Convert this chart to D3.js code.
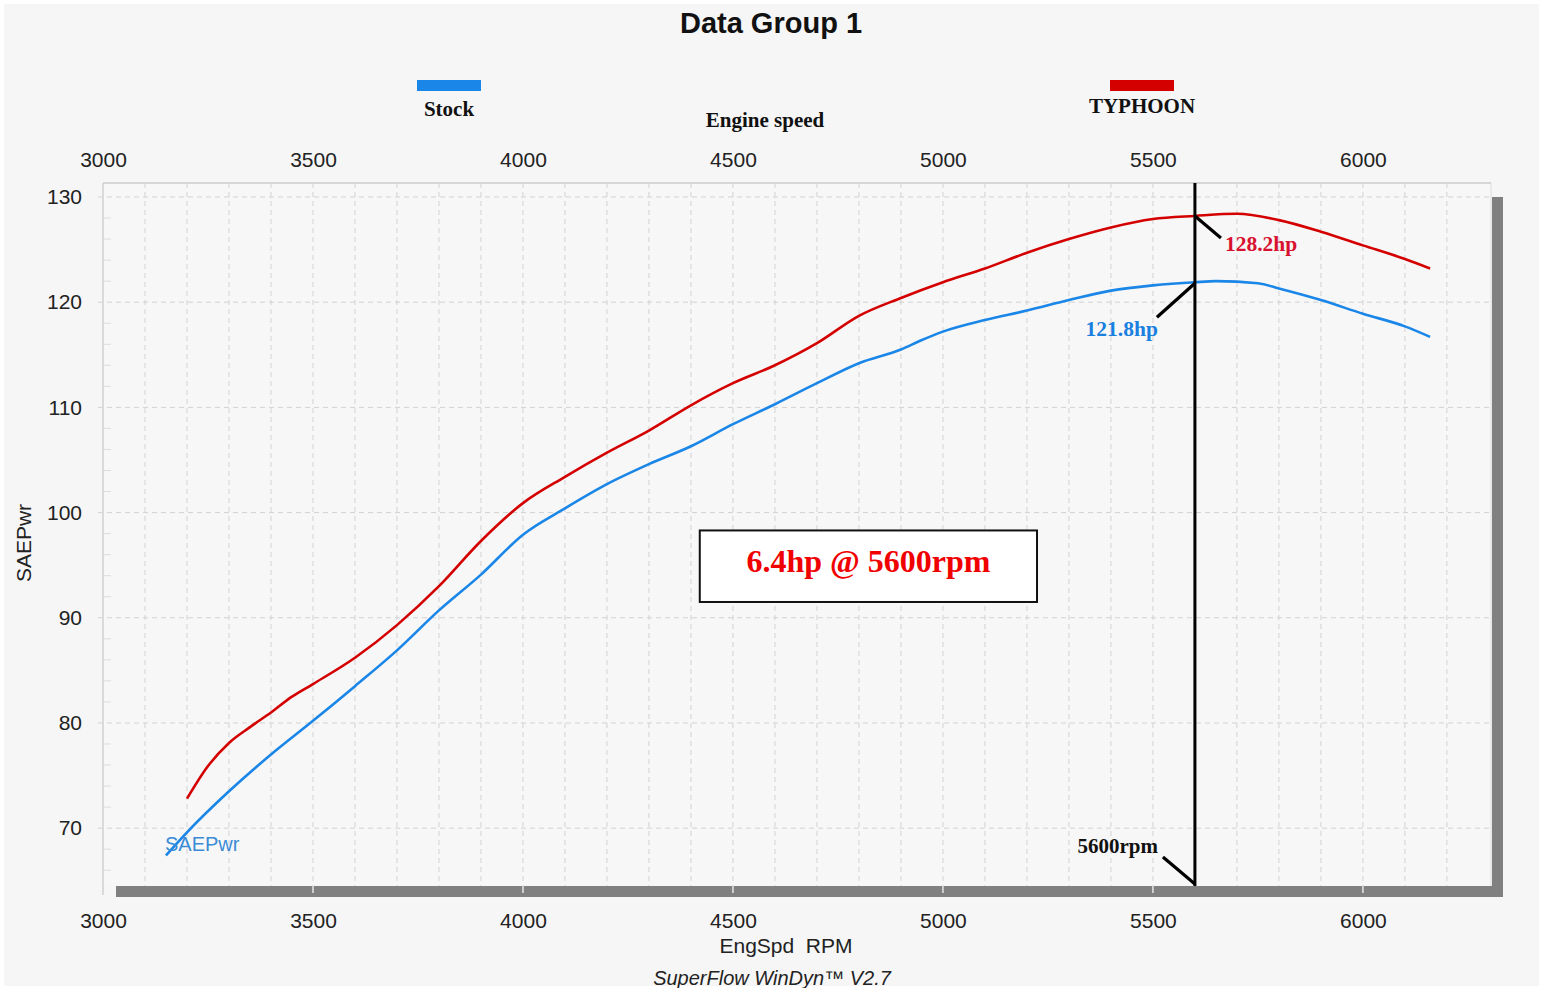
<!DOCTYPE html>
<html>
<head>
<meta charset="utf-8">
<script src="https://cdn.jsdelivr.net/npm/d3@7"></script>
<style>
  html, body { margin: 0; padding: 0; background: #ffffff; }
  svg { display: block; }
</style>
</head>
<body>
<svg id="chart" width="1543" height="988"></svg>
<script>
// ---------- data ----------
const stockRpm = [3150, 3200, 3300, 3400, 3500, 3600, 3700, 3800, 3900, 4000, 4100, 4200, 4300, 4400, 4500, 4600, 4700, 4800, 4900, 4950, 5000, 5100, 5200, 5300, 5400, 5500, 5600, 5650, 5750, 5800, 5900, 6000, 6100, 6160];
const stockHp  = [67.4, 69.6, 73.5, 77.0, 80.2, 83.5, 86.9, 90.7, 94.1, 97.9, 100.4, 102.7, 104.6, 106.3, 108.4, 110.3, 112.3, 114.2, 115.5, 116.4, 117.2, 118.3, 119.2, 120.2, 121.1, 121.6, 121.9, 122.0, 121.8, 121.3, 120.2, 118.9, 117.7, 116.7];
const typhRpm  = [3200, 3250, 3300, 3350, 3400, 3450, 3500, 3600, 3700, 3800, 3900, 4000, 4100, 4200, 4300, 4400, 4500, 4600, 4700, 4800, 4900, 5000, 5100, 5200, 5300, 5400, 5500, 5600, 5700, 5800, 5900, 6000, 6100, 6160];
const typhHp   = [72.8, 75.9, 78.1, 79.6, 81.0, 82.5, 83.7, 86.2, 89.3, 93.0, 97.3, 100.9, 103.4, 105.7, 107.8, 110.2, 112.3, 114.0, 116.1, 118.7, 120.4, 121.9, 123.2, 124.7, 126.0, 127.1, 127.9, 128.2, 128.4, 127.8, 126.7, 125.4, 124.1, 123.2];
const xTicks = [3000, 3500, 4000, 4500, 5000, 5500, 6000];
const yTicks = [70, 80, 90, 100, 110, 120, 130];
const seriesNames = ["Stock", "TYPHOON"];
const markerRpm = 5600;
const markerStock = 121.8;
const markerTyph = 128.2;
const boxText = "6.4hp @ 5600rpm";
const boxRpm = [4421, 5224];
const boxHp = [91.5, 98.3];

// ---------- setup ----------
const svg = d3.select("#chart");
const W = 1543, H = 988;
const L = 103, R = 1491, T = 183, B = 886;
const x = d3.scaleLinear().domain([3000, 6305]).range([L, R]);
const y = d3.scaleLinear().domain([64.5, 131.33]).range([B, T]);
const blue = "#1a86e8", red = "#d40000";
const sans = "'Liberation Sans', Arial, sans-serif";
const serif = "'Liberation Serif', 'Times New Roman', serif";

svg.append("rect").attr("width", W).attr("height", H).attr("fill", "#ffffff");
svg.append("rect").attr("x", 4).attr("y", 4).attr("width", W - 8).attr("height", H - 6).attr("fill", "#f6f6f6");

// shadow
svg.append("rect").attr("x", R + 1).attr("y", y(130)).attr("width", 11).attr("height", B + 11 - y(130)).attr("fill", "#808080");
svg.append("rect").attr("x", L + 13).attr("y", B).attr("width", R + 12 - (L + 13)).attr("height", 11).attr("fill", "#808080");
svg.append("g").selectAll("line").data(xTicks.slice(1)).join("line")
  .attr("x1", d => x(d)).attr("x2", d => x(d)).attr("y1", B).attr("y2", B + 7)
  .attr("stroke", "#e6e6e6").attr("stroke-width", 1.5);

// plot background
svg.append("rect").attr("x", L).attr("y", T).attr("width", R - L).attr("height", B - T).attr("fill", "#f7f7f7");

// grid
const vGrid = d3.range(3100, 6300, 100);
svg.append("g").selectAll("line").data(vGrid).join("line")
  .attr("x1", d => x(d)).attr("x2", d => x(d)).attr("y1", T).attr("y2", B)
  .attr("stroke", "#d2d2d2").attr("stroke-width", 1).attr("stroke-dasharray", "5,4");
svg.append("g").selectAll("line").data(yTicks).join("line")
  .attr("x1", L - 5).attr("x2", R).attr("y1", d => y(d)).attr("y2", d => y(d))
  .attr("stroke", "#d2d2d2").attr("stroke-width", 1).attr("stroke-dasharray", "5,4");
const minor = d3.range(66, 131, 2).filter(v => v % 10 !== 0);
svg.append("g").selectAll("line").data(minor).join("line")
  .attr("x1", L).attr("x2", L + 8).attr("y1", d => y(d)).attr("y2", d => y(d))
  .attr("stroke", "#dcdcdc").attr("stroke-width", 1);

// frame
svg.append("line").attr("x1", L).attr("x2", R).attr("y1", T).attr("y2", T).attr("stroke", "#d6d6d6").attr("stroke-width", 2);
svg.append("line").attr("x1", L).attr("x2", L).attr("y1", T).attr("y2", B + 9).attr("stroke", "#d0d0d0").attr("stroke-width", 1.5);
svg.append("line").attr("x1", R).attr("x2", R).attr("y1", T).attr("y2", B).attr("stroke", "#dcdcdc").attr("stroke-width", 1);

// axes
function styleAxis(g) {
  g.select(".domain").remove();
  g.selectAll("text").attr("font-family", sans).attr("font-size", 21).attr("fill", "#222");
}
svg.append("g").attr("transform", `translate(0,${T})`)
  .call(d3.axisTop(x).tickValues(xTicks).tickSize(0).tickPadding(16).tickFormat(d3.format("d")))
  .call(styleAxis);
svg.append("g").attr("transform", `translate(0,${B})`)
  .call(d3.axisBottom(x).tickValues(xTicks).tickSize(0).tickPadding(27).tickFormat(d3.format("d")))
  .call(styleAxis);
svg.append("g").attr("transform", `translate(${L},0)`)
  .call(d3.axisLeft(y).tickValues(yTicks).tickSize(0).tickPadding(21).tickFormat(d3.format("d")))
  .call(styleAxis);

// axis titles
svg.append("text").attr("transform", "translate(31,543) rotate(-90)").attr("text-anchor", "middle")
  .attr("font-family", sans).attr("font-size", 21).attr("fill", "#222").text("SAEPwr");
svg.append("text").attr("x", 786).attr("y", 953).attr("text-anchor", "middle")
  .attr("font-family", sans).attr("font-size", 21).attr("fill", "#222").text("EngSpd\u00a0\u00a0RPM");
svg.append("text").attr("x", 772).attr("y", 985).attr("text-anchor", "middle")
  .attr("font-family", sans).attr("font-style", "italic").attr("font-size", 20).attr("fill", "#222").text("SuperFlow WinDyn\u2122 V2.7");
svg.append("text").attr("x", 771).attr("y", 33).attr("text-anchor", "middle")
  .attr("font-family", sans).attr("font-weight", "bold").attr("font-size", 29).attr("fill", "#111").text("Data Group 1");
svg.append("text").attr("x", 765).attr("y", 127).attr("text-anchor", "middle")
  .attr("font-family", serif).attr("font-weight", "bold").attr("font-size", 21).attr("fill", "#111").text("Engine speed");

// legend
const legendX = [449, 1142];
const legendColors = [blue, red];
const legendTextY = [116, 113];
seriesNames.forEach((n, i) => {
  svg.append("rect").attr("x", legendX[i] - 32).attr("y", 80).attr("width", 64).attr("height", 11).attr("fill", legendColors[i]);
  svg.append("text").attr("x", legendX[i]).attr("y", legendTextY[i]).attr("text-anchor", "middle")
    .attr("font-family", serif).attr("font-weight", "bold").attr("font-size", 21).attr("fill", "#111").text(n);
});

// lines
const line = d3.line().x(d => x(d[0])).y(d => y(d[1])).curve(d3.curveMonotoneX);
svg.append("path").datum(d3.zip(stockRpm, stockHp)).attr("d", line)
  .attr("fill", "none").attr("stroke", blue).attr("stroke-width", 2.6);
svg.append("path").datum(d3.zip(typhRpm, typhHp)).attr("d", line)
  .attr("fill", "none").attr("stroke", red).attr("stroke-width", 2.6);

// in-plot series label
svg.append("text").attr("x", x(stockRpm[0]) - 1).attr("y", y(stockHp[0]) - 4)
  .attr("font-family", sans).attr("font-size", 20).attr("fill", "#3a8cd6").text("SAEPwr");

// marker line
const mx = x(markerRpm);
svg.append("line").attr("x1", mx).attr("x2", mx).attr("y1", T).attr("y2", B)
  .attr("stroke", "#000").attr("stroke-width", 3);

// leaders
function leader(x1, y1, x2, y2) {
  svg.append("line").attr("x1", x1).attr("y1", y1).attr("x2", x2).attr("y2", y2)
    .attr("stroke", "#000").attr("stroke-width", 3.2);
}
leader(mx, y(markerTyph), mx + 26, y(markerTyph) + 22);
svg.append("text").attr("x", mx + 30).attr("y", y(markerTyph) + 35)
  .attr("font-family", serif).attr("font-weight", "bold").attr("font-size", 21.5).attr("fill", "#d8112f").text(markerTyph + "hp");
leader(mx, y(markerStock), mx - 38, y(markerStock) + 34);
svg.append("text").attr("x", mx - 37).attr("y", y(markerStock) + 53).attr("text-anchor", "end")
  .attr("font-family", serif).attr("font-weight", "bold").attr("font-size", 21.5).attr("fill", "#1a80e0").text(markerStock + "hp");
leader(mx, B - 2, mx - 32, B - 29);
svg.append("text").attr("x", mx - 37).attr("y", B - 33).attr("text-anchor", "end")
  .attr("font-family", serif).attr("font-weight", "bold").attr("font-size", 21).attr("fill", "#111").text(markerRpm + "rpm");

// difference box
const bx0 = x(boxRpm[0]), bx1 = x(boxRpm[1]), by0 = y(boxHp[1]), by1 = y(boxHp[0]);
svg.append("rect").attr("x", bx0).attr("y", by0).attr("width", bx1 - bx0).attr("height", by1 - by0)
  .attr("fill", "#ffffff").attr("stroke", "#111").attr("stroke-width", 2);
svg.append("text").attr("x", (bx0 + bx1) / 2).attr("y", (by0 + by1) / 2 + 6).attr("text-anchor", "middle")
  .attr("font-family", serif).attr("font-weight", "bold").attr("font-size", 32).attr("fill", "#f00000").text(boxText);
</script>
</body>
</html>
